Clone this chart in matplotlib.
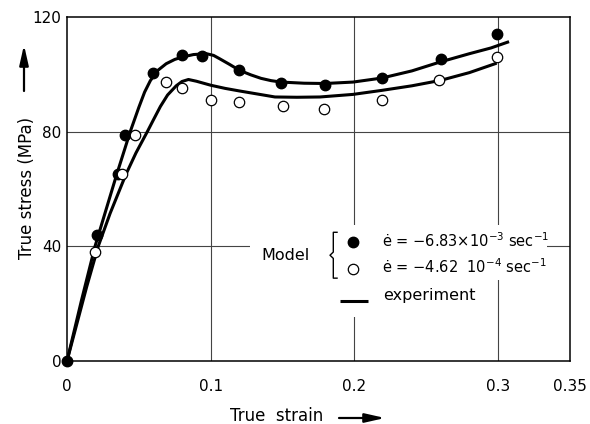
import matplotlib
matplotlib.use("Agg")
import matplotlib.pyplot as plt
from matplotlib.patches import Rectangle

plt.rcParams["font.family"] = ["DejaVu Sans"]
plt.rcParams["mathtext.fontset"] = "dejavusans"

# Model points, strain rate -6.83e-3 1/s (filled)
fast_strain = [0.0, 0.0207, 0.0357, 0.0404, 0.060, 0.080, 0.094, 0.120, 0.149, 0.1795, 0.219, 0.260, 0.299]
fast_stress = [0.0, 44.1, 65.1, 78.7, 100.5, 106.6, 106.3, 101.6, 97.1, 96.4, 98.7, 105.5, 113.9]

# Model points, strain rate -4.62e-4 1/s (open)
slow_strain = [0.0195, 0.038, 0.047, 0.069, 0.080, 0.100, 0.120, 0.150, 0.179, 0.219, 0.259, 0.2995]
slow_stress = [38.1, 65.1, 78.7, 97.2, 95.2, 91.2, 90.3, 88.9, 88.0, 90.9, 97.9, 106.0]

# Experiment curves
exp_fast_strain = [0.0, 0.010, 0.0195, 0.027, 0.0346, 0.044, 0.050, 0.054, 0.058, 0.063, 0.069,
                   0.075, 0.080, 0.088, 0.097, 0.102, 0.106, 0.113, 0.120, 0.128, 0.135, 0.142,
                   0.149, 0.165, 0.1795, 0.199, 0.219, 0.240, 0.2596, 0.280, 0.295, 0.3076]
exp_fast_stress = [0.0, 21.0, 40.0, 52.5, 65.1, 80.0, 88.5, 93.8, 97.8, 101.3, 103.7,
                   105.2, 106.0, 106.9, 107.2, 106.6, 105.5, 103.5, 101.4, 99.8, 98.6, 97.8,
                   97.3, 96.9, 96.8, 97.3, 98.7, 101.2, 104.3, 107.2, 109.2, 111.4]

exp_slow_strain = [0.0, 0.0137, 0.0218, 0.030, 0.041, 0.048, 0.056, 0.060, 0.065, 0.070, 0.076,
                   0.080, 0.0845, 0.090, 0.100, 0.110, 0.120, 0.1447, 0.160, 0.176, 0.199, 0.219,
                   0.240, 0.260, 0.280, 0.299]
exp_slow_stress = [0.0, 25.9, 40.1, 51.5, 65.1, 72.6, 80.1, 84.0, 88.8, 92.8, 96.0,
                   97.5, 98.2, 97.6, 96.2, 95.1, 94.2, 92.1, 92.0, 92.1, 93.0, 94.4,
                   96.0, 97.9, 100.6, 103.9]

x_ticks = [0, 0.1, 0.2, 0.3, 0.35]
x_tick_labels = ["0", "0.1", "0.2", "0.3", "0.35"]
y_ticks = [0, 40, 80, 120]

W, H = 590, 424
fig = plt.figure(figsize=(W / 100, H / 100), dpi=100)
ax = fig.add_axes([67 / W, 63 / H, 503 / W, 344 / H])

ax.set_xlim(0, 0.35)
ax.set_ylim(0, 120)
ax.set_xticks(x_ticks)
ax.set_xticklabels(x_tick_labels)
ax.set_yticks(y_ticks)
ax.tick_params(length=0, labelsize=11)
ax.tick_params(axis="x", pad=13)
ax.tick_params(axis="y", pad=4)
for s in ax.spines.values():
    s.set_linewidth(1.1)

# grid only at inner lines
for gx in [0.1, 0.2, 0.3]:
    ax.axvline(gx, color="#444444", lw=0.8, zorder=1)
for gy in [40, 80]:
    ax.axhline(gy, color="#444444", lw=0.8, zorder=1)

ax.plot(exp_fast_strain, exp_fast_stress, color="black", lw=2.2, zorder=3,
        solid_capstyle="butt", solid_joinstyle="round")
ax.plot(exp_slow_strain, exp_slow_stress, color="black", lw=2.2, zorder=3,
        solid_capstyle="butt", solid_joinstyle="round")
ax.plot(fast_strain, fast_stress, "o", ms=7.5, color="black", zorder=4, clip_on=False)
ax.plot(slow_strain, slow_stress, "o", ms=7.5, mfc="white", mec="black", mew=0.9, zorder=4, clip_on=False)

# legend area (white mask over grid lines)
ax.add_patch(Rectangle((0.1274, 28.2), 0.334 - 0.1274, 47.4 - 28.2, facecolor="white",
                       edgecolor="none", zorder=2))
ax.add_patch(Rectangle((0.183, 15.3), 0.2874 - 0.183, 28.2 - 15.3, facecolor="white",
                       edgecolor="none", zorder=2))

ax.text(0.169, 36.9, "Model", ha="right", va="center", fontsize=11.5, zorder=5)
ax.plot([0.1879, 0.1853, 0.1853, 0.1830, 0.1853, 0.1853, 0.1879],
        [44.9, 44.9, 38.0, 36.9, 35.8, 28.9, 28.9], color="black", lw=1.0, zorder=5)
ax.plot([0.1988], [41.6], "o", ms=7.5, color="black", zorder=5)
ax.plot([0.1988], [31.95], "o", ms=7.5, mfc="white", mec="black", mew=0.9, zorder=5)
ax.text(0.219, 41.9, "ė = −6.83×10$^{-3}$ sec$^{-1}$", ha="left", va="center", fontsize=10.5, zorder=5)
ax.text(0.219, 32.9, "ė = −4.62  10$^{-4}$ sec$^{-1}$", ha="left", va="center", fontsize=10.5, zorder=5)
ax.plot([0.190, 0.2095], [20.9, 20.9], color="black", lw=2.2, zorder=5, solid_capstyle="butt")
ax.text(0.220, 23.0, "experiment", ha="left", va="center", fontsize=11.5, zorder=5)

# axis titles with arrows
arrow_style = dict(arrowstyle="-|>,head_length=0.75,head_width=0.17", lw=1.6,
                   color="black", mutation_scale=16, shrinkA=0, shrinkB=0)
fig.text(277 / W, 1 - 416 / H, "True  strain", ha="center", va="center", fontsize=12)
ax.annotate("", xy=(385 / W, 1 - 418 / H), xytext=(339 / W, 1 - 418 / H),
            xycoords="figure fraction", textcoords="figure fraction", arrowprops=arrow_style)
fig.text(27 / W, 1 - 188 / H, "True stress (MPa)", ha="center", va="center", rotation=90,
         fontsize=12)
ax.annotate("", xy=(24 / W, 1 - 45 / H), xytext=(24 / W, 1 - 91 / H),
            xycoords="figure fraction", textcoords="figure fraction", arrowprops=arrow_style)

fig.savefig("out.png", dpi=100)
